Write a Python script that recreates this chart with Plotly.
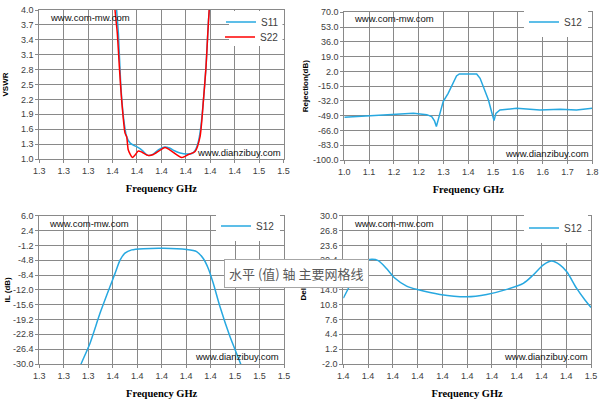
import numpy as np
import plotly.graph_objects as go

# --- data ---
s11_freq = [1.3520, 1.3570, 1.3583, 1.3600, 1.3620, 1.3644, 1.3670, 1.3700, 1.3730, 1.3760,
            1.3790, 1.3810, 1.3840, 1.3880, 1.3925, 1.3960, 1.4000, 1.4038, 1.4087, 1.4124,
            1.4150, 1.4175, 1.4195, 1.4210, 1.4229, 1.4247, 1.4254, 1.4290]
s11_vswr = [6.0, 4.0, 3.53, 2.52, 1.85, 1.45, 1.32, 1.27, 1.23, 1.17,
            1.09, 1.07, 1.10, 1.19, 1.24, 1.22, 1.16, 1.12, 1.10, 1.11,
            1.18, 1.38, 1.75, 2.19, 2.86, 3.80, 4.0, 6.0]

s22_freq = [1.3510, 1.3558, 1.3575, 1.3590, 1.3607, 1.3632, 1.3644, 1.3656, 1.3686, 1.3706,
            1.3730, 1.3755, 1.3804, 1.3841, 1.3927, 1.3964, 1.4050, 1.4099, 1.4148, 1.4185,
            1.4210, 1.4229, 1.4242, 1.4252, 1.4280]
s22_vswr = [6.0, 4.0, 3.53, 2.86, 2.19, 1.52, 1.45, 1.18, 1.03, 1.08,
            1.16, 1.14, 1.07, 1.09, 1.23, 1.18, 1.03, 1.09, 1.15, 1.45,
            2.19, 2.86, 3.53, 4.0, 6.0]

rej_freq = [1.000, 1.083, 1.158, 1.223, 1.266, 1.282, 1.291, 1.297, 1.302, 1.309,
            1.319, 1.335, 1.352, 1.362, 1.371, 1.400, 1.427, 1.438, 1.451, 1.465,
            1.475, 1.483, 1.489, 1.502, 1.556, 1.631, 1.696, 1.749, 1.800]
rej_db = [-50.9, -49.0, -47.8, -46.3, -47.8, -50.0, -55.0, -61.5, -55.0, -44.4,
          -32.8, -23.2, -11.7, -3.3, -1.0, -0.8, -1.0, -6.0, -17.5, -30.9,
          -44.4, -54.7, -46.3, -42.4, -40.5, -42.4, -41.7, -42.4, -40.5]

il_freq = [1.3300, 1.3341, 1.3414, 1.3496, 1.3578, 1.3619, 1.3660, 1.3700, 1.3755, 1.3850,
           1.4014, 1.4204, 1.4286, 1.4340, 1.4381, 1.4422, 1.4477, 1.4559, 1.4646, 1.4680]
il_db = [-33.0, -30.0, -25.0, -17.7, -11.2, -8.0, -4.8, -3.1, -2.3, -2.0,
         -1.9, -2.2, -2.7, -4.4, -6.8, -10.4, -16.1, -23.4, -30.0, -33.0]

dly_freq = [1.3620, 1.3644, 1.3675, 1.3699, 1.3723, 1.3747, 1.3777, 1.3808, 1.3850, 1.3893,
            1.3971, 1.4068, 1.4141, 1.4214, 1.4274, 1.4310, 1.4347, 1.4377, 1.4407, 1.4432,
            1.4468, 1.4498, 1.4520]
dly_ns = [12.2, 15.0, 19.0, 20.2, 20.6, 20.3, 18.6, 16.5, 14.8, 14.0,
          13.0, 12.5, 13.0, 14.1, 15.4, 17.2, 19.4, 20.2, 19.4, 17.9,
          14.3, 11.8, 10.2]

W, H = 601, 404
BLUE = "#27a8e0"
RED = "#ff0000"
GRID = "#898989"
TXT = "#404040"


def px(x):
    return x / W


def py(y):
    return 1 - y / H


def ticks(a, b, n=11):
    v = np.linspace(a, b, n)
    return list(v), [f"{t:.1f}" for t in v]


fig = go.Figure()

fig.add_trace(go.Scatter(x=s11_freq, y=s11_vswr, name="S11", mode="lines",
                         line=dict(color=BLUE, width=1.5, shape="spline", smoothing=0.6),
                         xaxis="x", yaxis="y", legend="legend"))
fig.add_trace(go.Scatter(x=s22_freq, y=s22_vswr, name="S22", mode="lines",
                         line=dict(color=RED, width=1.5, shape="spline", smoothing=0.6),
                         xaxis="x", yaxis="y", legend="legend5"))
fig.add_trace(go.Scatter(x=rej_freq, y=rej_db, name="S12", mode="lines",
                         line=dict(color=BLUE, width=1.5),
                         xaxis="x2", yaxis="y2", legend="legend2"))
fig.add_trace(go.Scatter(x=il_freq, y=il_db, name="S12", mode="lines",
                         line=dict(color=BLUE, width=1.5, shape="spline", smoothing=0.6),
                         xaxis="x3", yaxis="y3", legend="legend3"))
fig.add_trace(go.Scatter(x=dly_freq, y=dly_ns, name="S12", mode="lines",
                         line=dict(color=BLUE, width=1.5, shape="spline", smoothing=0.8),
                         xaxis="x4", yaxis="y4", legend="legend4"))

tickfont = dict(family="Liberation Sans", size=9, color=TXT)
xtitlefont = dict(family="Liberation Serif", size=10.5, color="#000000")
ytitlefont = dict(family="Liberation Sans", size=8, color="#000000")


def axis(dom, rng, tv, tt, anchor, title, tfont, standoff):
    return dict(domain=dom, range=rng, tickmode="array", tickvals=tv, ticktext=tt,
                showgrid=True, gridcolor=GRID, gridwidth=1, showline=True, mirror=True,
                linecolor=GRID, linewidth=1, ticks="outside", ticklen=3, tickcolor=GRID,
                tickfont=tickfont, zeroline=False, anchor=anchor, automargin=False,
                title=dict(text=title, font=tfont, standoff=standoff))


panels = [
    # plot area in px (x0, x1), (y0, y1), x range, y range, y title, title gap
    ((39.3, 283.5), (10, 159), (1.300, 1.480), (1.0, 4.0), "VSWR", 11),
    ((344.3, 592.3), (12.3, 160), (1.0, 1.8), (-100, 70), "Rejection(dB)", 3),
    ((39.3, 284), (215.7, 364), (1.30, 1.50), (-30, 6), "IL (dB)", 1),
    ((343.3, 591), (215.7, 364), (1.362, 1.452), (-2, 30), "Delay", 12),
]

layout = {}
for i, (xd, yd, xr, yr, ytitle, ystand) in enumerate(panels, start=1):
    sfx = "" if i == 1 else str(i)
    xv, xt = ticks(*xr)
    yv, yt = ticks(*yr)
    layout["xaxis" + sfx] = axis([px(xd[0]), px(xd[1])], list(xr), xv, xt, "y" + sfx,
                                 "<b>Frequency GHz</b>", xtitlefont, 9)
    layout["yaxis" + sfx] = axis([py(yd[1]), py(yd[0])], list(yr), yv, yt, "x" + sfx,
                                 "<b>" + ytitle + "</b>", ytitlefont, ystand)

leg_common = dict(bgcolor="white", borderwidth=0,
                  font=dict(family="Liberation Sans", size=10, color=TXT),
                  xanchor="right", yanchor="middle", itemwidth=30)
clear = "rgba(0,0,0,0)"
layout["legend"] = dict(leg_common, x=px(284), y=py(22), bgcolor=clear)
layout["legend5"] = dict(leg_common, x=px(284), y=py(37), bgcolor=clear)
layout["legend2"] = dict(leg_common, x=px(588), y=py(22))
layout["legend3"] = dict(leg_common, x=px(280), y=py(226))
layout["legend4"] = dict(leg_common, x=px(588), y=py(228))

# shared white backing for the two-entry legend of the VSWR panel
shapes = [dict(type="rect", xref="paper", yref="paper", x0=px(229), x1=px(282.5),
               y0=py(46), y1=py(11), fillcolor="white", line=dict(width=0), layer="above")]

marks = [
    (48, 17, "www.com-mw.com"), (195, 152, "www.dianzibuy.com"),
    (352, 18, "www.com-mw.com"), (503, 153, "www.dianzibuy.com"),
    (47, 223, "www.com-mw.com"), (193, 356, "www.dianzibuy.com"),
    (352, 223, "www.com-mw.com"), (502, 356, "www.dianzibuy.com"),
]
annotations = [dict(x=px(x), y=py(y), xref="paper", yref="paper", text=t, showarrow=False,
                    xanchor="left", yanchor="middle",
                    font=dict(family="Liberation Sans", size=9.5, color="#111111"))
               for x, y, t in marks]
# Excel hover tooltip captured in the screenshot
annotations.append(dict(x=px(296.5), y=py(273), xref="paper", yref="paper",
                        text="水平 (值) 轴 主要网格线", showarrow=False,
                        xanchor="center", yanchor="middle",
                        font=dict(family="Noto Sans CJK SC", size=13, color="#595959"),
                        bgcolor="white", bordercolor="#a6a6a6", borderwidth=1, borderpad=4))

fig.update_layout(width=W, height=H, margin=dict(l=0, r=0, t=0, b=0),
                  paper_bgcolor="white", plot_bgcolor="white", showlegend=True,
                  annotations=annotations, shapes=shapes, **layout)

fig.write_html("out.html", config={"displayModeBar": False},
               post_script="document.body.style.margin='0';")
